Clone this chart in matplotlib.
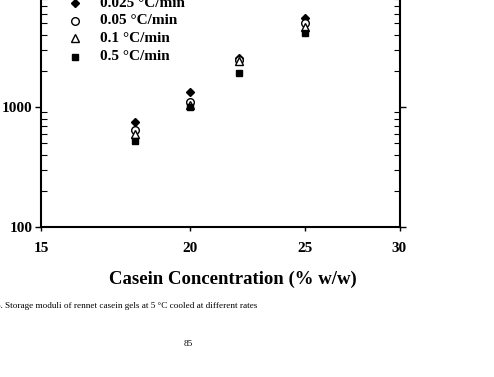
import matplotlib
matplotlib.use("Agg")
import matplotlib.pyplot as plt
from matplotlib.ticker import FixedLocator, NullFormatter, LogLocator, NullLocator

conc = [18, 20, 22, 25]
g_0025 = [754, 1341, 2543, 5480]
g_005 = [643, 1094, 2460, 4980]
g_01 = [592, 1035, 2440, 4650]
g_05 = [518, 1006, 1931, 4160]
labels = ["0.025 °C/min", "0.05 °C/min", "0.1 °C/min", "0.5 °C/min"]
xticks = [15, 20, 25, 30]
yticks = [100, 1000, 10000]

serif = ["Liberation Serif", "DejaVu Serif"]
plt.rcParams['font.family'] = serif

fig = plt.figure(figsize=(4.94, 3.77), dpi=100)
ax = fig.add_axes([41/494, 1 - 227/377, (399.5 - 41)/494, 240/377])

ax.plot(conc, g_0025, linestyle='none', marker='D', ms=4.5, color='black', mfc='black')
ax.plot(conc, g_005, linestyle='none', marker='o', ms=5.5, color='black', mfc='white', mew=1.0)
ax.plot(conc, g_01, linestyle='none', marker='^', ms=5.5, color='black', mfc='white', mew=1.0)
ax.plot(conc, g_05, linestyle='none', marker='s', ms=4.5, color='black', mfc='black')

ax.set_xscale('log')
ax.set_yscale('log')
ax.set_xlim(15, 30)
ax.set_ylim(100, 10000)

ax.xaxis.set_major_locator(FixedLocator(xticks))
ax.xaxis.set_minor_locator(NullLocator())
ax.set_xticklabels([str(t) for t in xticks])
ax.yaxis.set_major_locator(FixedLocator(yticks))
ax.set_yticklabels([str(t) for t in yticks])
ax.yaxis.set_minor_locator(LogLocator(base=10, subs=range(2, 10)))
ax.yaxis.set_minor_formatter(NullFormatter())

for lab in ax.get_xticklabels() + ax.get_yticklabels():
    lab.set_fontweight('bold')
    lab.set_fontsize(11)

ax.tick_params(axis='x', which='major', direction='out', length=3, width=1.0, pad=8)
ax.tick_params(axis='y', which='major', direction='out', length=4, width=1.0, pad=2,
               right=True)
ax.tick_params(axis='y', which='minor', direction='in', length=4, width=0.8,
               left=True, right=True)

for sp in ax.spines.values():
    sp.set_linewidth(1.5)

fig.text(233/494, 1 - 279/377, "Casein Concentration (% w/w)", fontsize=13.5,
         fontweight='bold', ha='center', va='center')

# legend (manual)
leg_y = [3.3, 20.5, 38, 56.5]
markers = [('D', 'black', 4.5), ('o', 'white', 5.5), ('^', 'white', 5.5), ('s', 'black', 4.5)]
for (m, fc, s), lab, yy in zip(markers, labels, leg_y):
    fy = 1 - yy / 377
    fig.lines.append(plt.Line2D([74.7/494], [fy], transform=fig.transFigure, marker=m,
                                ms=s, mfc=fc, mec='black', mew=1.0, linestyle='none'))
    fig.text(100/494, fy, lab, fontsize=11, fontweight='bold', va='center', ha='left')

fig.text(-4/494, 1 - 306/377, "6. Storage moduli of rennet casein gels at 5 °C cooled at different rates",
         fontsize=6.6, va='center', ha='left')
fig.text(188/494, 1 - 344/377, "85", fontsize=6.6, va='center', ha='center')

fig.savefig("out.png", dpi=100)
